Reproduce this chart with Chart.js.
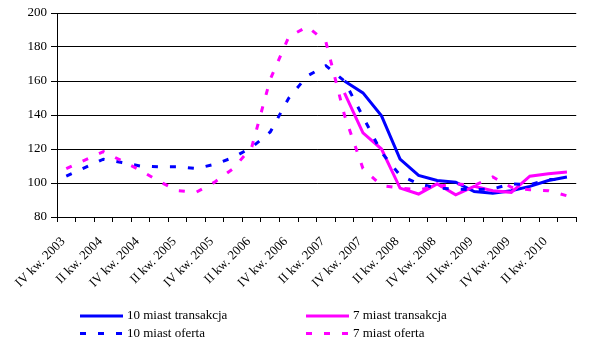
<!DOCTYPE html>
<html>
<head>
<meta charset="utf-8">
<script src="https://cdn.jsdelivr.net/npm/chart.js@4/dist/chart.umd.min.js"></script>
<style>
html, body { margin: 0; padding: 0; background: #fff; }
</style>
</head>
<body>
<canvas id="chart" width="590" height="343"></canvas>
<script>
// kwartaly od IV kw. 2003 do III kw. 2010
const quarters = [
    "IV kw. 2003", "I kw. 2004", "II kw. 2004", "III kw. 2004",
    "IV kw. 2004", "I kw. 2005", "II kw. 2005", "III kw. 2005",
    "IV kw. 2005", "I kw. 2006", "II kw. 2006", "III kw. 2006",
    "IV kw. 2006", "I kw. 2007", "II kw. 2007", "III kw. 2007",
    "IV kw. 2007", "I kw. 2008", "II kw. 2008", "III kw. 2008",
    "IV kw. 2008", "I kw. 2009", "II kw. 2009", "III kw. 2009",
    "IV kw. 2009", "I kw. 2010", "II kw. 2010", "III kw. 2010"
];

const trans10 = [null, null, null, null, null, null, null, null, null, null, null, null, null, null, null,
    160, 153, 139.5, 114, 104.5, 101.5, 100.5, 95, 94, 95.5, 98, 101.5, 103.5];
const trans7 = [null, null, null, null, null, null, null, null, null, null, null, null, null, null, null,
    153, 129.5, 120, 97, 93.5, 99.5, 93, 98, 95.5, 94.5, 104, 105.5, 106.5];
const offer10 = [104, 109, 114, 112, 110, 109.5, 109.5, 108.5, 111, 115, 121, 130, 150, 163,
    169, 160, 139, 118, 104.5, 99.5, 97, 96.5, 96, 96.5, 99.5, 99, 102, 102];
const offer7 = [108.5, 113.5, 118.5, 113, 107.5, 101, 95.5, 94.5, 100.5, 108.5, 121, 161, 186, 192,
    183, 140, 108.5, 98.5, 97, 96, 98, 99.5, 98.5, 103.5, 97.5, 96, 95.5, 92.5];

const yMin = 80;
const yMax = 200;
const yStep = 20;

const FONT = "'Liberation Serif', 'Times New Roman', serif";
const BLUE = "#0000ff";
const PINK = "#ff00ff";
const DASH = [6, 12];

// legenda 2x2 pod wykresem
const legendBox = {
    id: "legendBox",
    afterDraw: function(chart) {
        const ctx = chart.ctx;
        ctx.save();
        ctx.font = "13px " + FONT;
        ctx.textBaseline = "middle";
        ctx.fillStyle = "#000";
        chart.data.datasets.forEach(function(ds, i) {
            const x = 80 + (i % 2) * 226;
            const y = 316 + Math.floor(i / 2) * 17.5;
            ctx.beginPath();
            ctx.strokeStyle = ds.borderColor;
            ctx.lineWidth = 3;
            ctx.setLineDash(ds.borderDash || []);
            ctx.moveTo(x, y);
            ctx.lineTo(x + 43, y);
            ctx.stroke();
            ctx.setLineDash([]);
            ctx.fillText(ds.label, x + 47, y);
        });
        ctx.restore();
    }
};

new Chart(document.getElementById("chart"), {
    type: "line",
    data: {
        labels: quarters,
        datasets: [
            { label: "10 miast transakcja", data: trans10, borderColor: BLUE, order: 4 },
            { label: "7 miast transakcja", data: trans7, borderColor: PINK, order: 3 },
            { label: "10 miast oferta", data: offer10, borderColor: BLUE, borderDash: DASH, order: 2 },
            { label: "7 miast oferta", data: offer7, borderColor: PINK, borderDash: DASH, order: 1 }
        ]
    },
    options: {
        responsive: false,
        animation: false,
        devicePixelRatio: 1,
        layout: { padding: { top: 13, right: 1, left: 0, bottom: 0 } },
        elements: {
            point: { radius: 0 },
            line: { tension: 0, borderWidth: 3, borderCapStyle: "butt", fill: false }
        },
        plugins: {
            legend: { display: false },
            tooltip: { enabled: false }
        },
        scales: {
            x: {
                offset: true,
                grid: { offset: true, drawOnChartArea: false, drawTicks: true, tickLength: 5, color: "#000" },
                border: { color: "#000", width: 1 },
                ticks: {
                    autoSkip: false,
                    maxRotation: 45,
                    minRotation: 45,
                    padding: 12,
                    labelOffset: -3,
                    color: "#000",
                    font: { family: FONT, size: 13 },
                    callback: function(v, i) { return i % 2 === 0 ? this.getLabelForValue(v) : ""; }
                },
                afterFit: function(s) { s.height = 126; }
            },
            y: {
                min: yMin,
                max: yMax,
                grid: { color: "#000", tickLength: 6, drawTicks: true },
                border: { color: "#000", width: 1 },
                ticks: { stepSize: yStep, padding: 4, color: "#000", font: { family: FONT, size: 13 } },
                afterFit: function(s) { s.width = 57; }
            }
        }
    },
    plugins: [legendBox]
});
</script>
</body>
</html>
